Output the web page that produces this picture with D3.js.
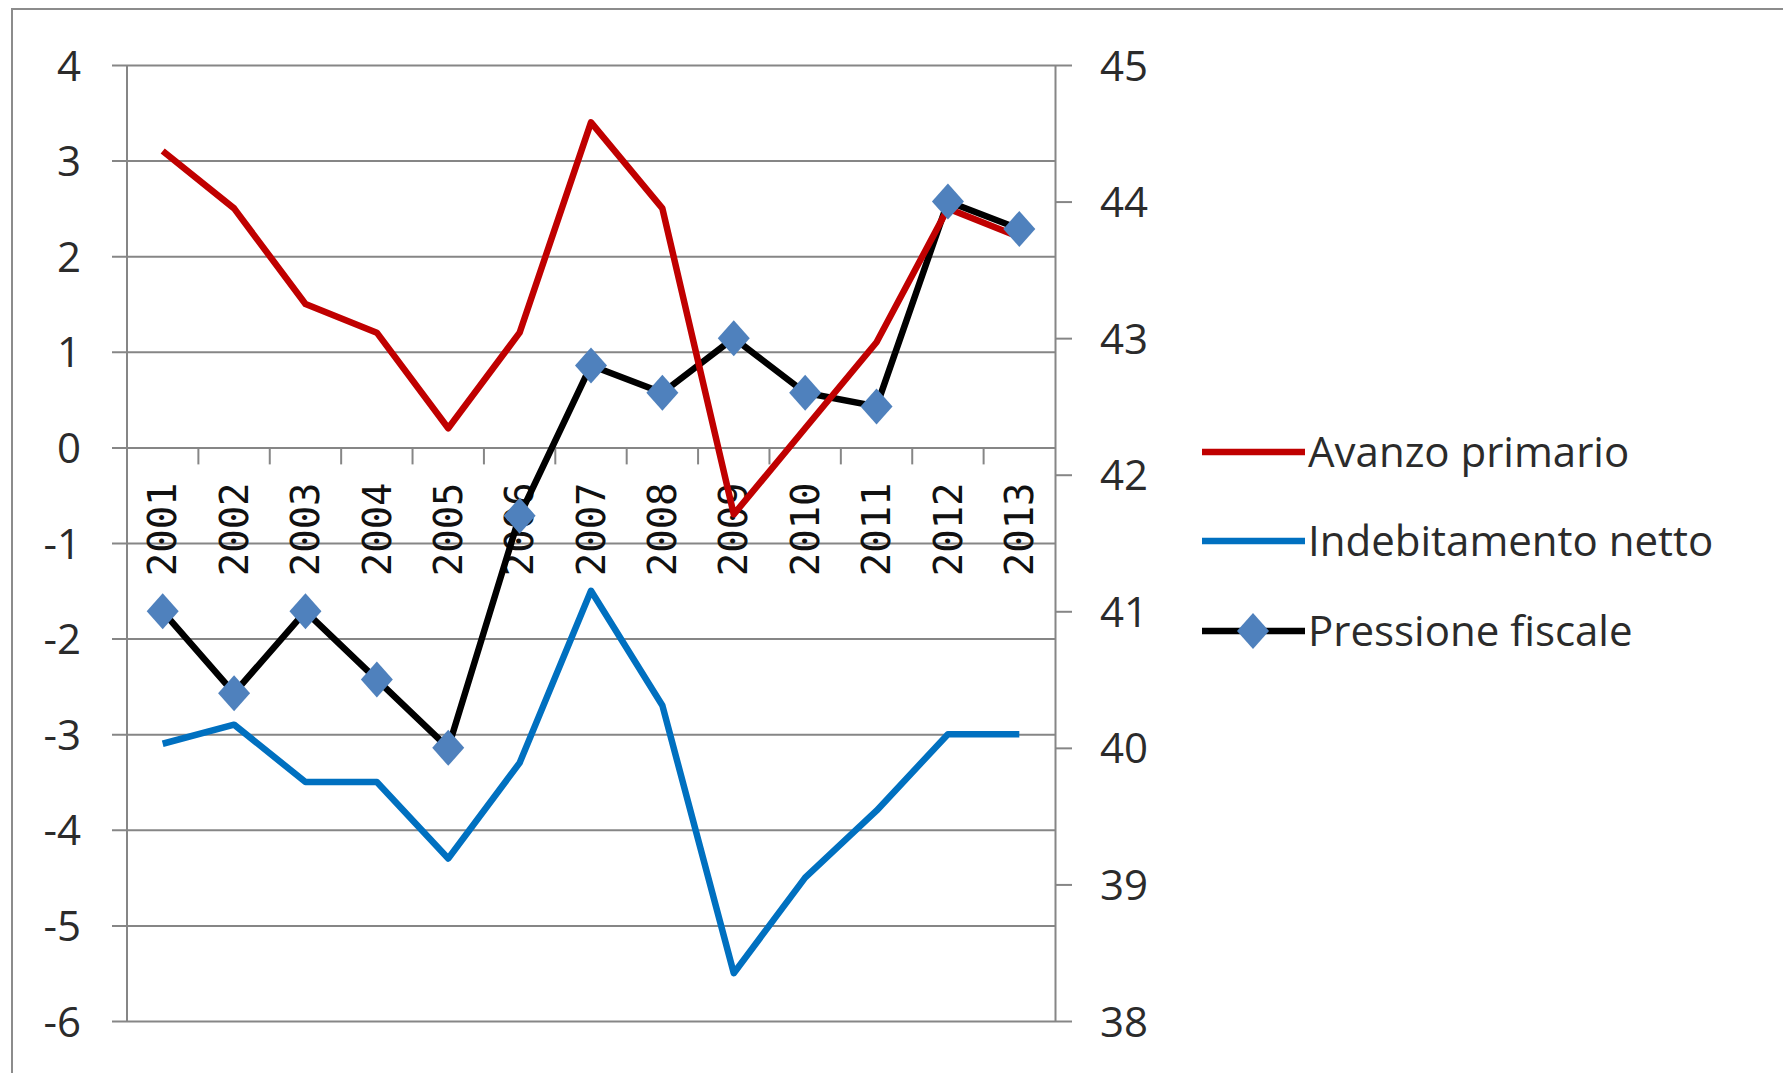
<!DOCTYPE html>
<html>
<head>
<meta charset="utf-8">
<script src="https://cdn.jsdelivr.net/npm/d3@7"></script>
<style>
html, body { margin: 0; padding: 0; background: #fff; }
svg { display: block; }
</style>
</head>
<body>
<svg width="1783" height="1073"></svg>
<script>
const years = ['2001','2002','2003','2004','2005','2006','2007','2008','2009','2010','2011','2012','2013'];
const avanzo = [3.1, 2.5, 1.5, 1.2, 0.2, 1.2, 3.4, 2.5, -0.7, 0.2, 1.1, 2.5, 2.2];
const indebitamento = [-3.1, -2.9, -3.5, -3.5, -4.3, -3.3, -1.5, -2.7, -5.5, -4.5, -3.8, -3.0, -3.0];
const pressione = [41.0, 40.4, 41.0, 40.5, 40.0, 41.7, 42.8, 42.6, 43.0, 42.6, 42.5, 44.0, 43.8];
const leftTicks = [4, 3, 2, 1, 0, -1, -2, -3, -4, -5, -6];
const rightTicks = [45, 44, 43, 42, 41, 40, 39, 38];
const legendNames = ['Avanzo primario', 'Indebitamento netto', 'Pressione fiscale'];

const plotLeft = 127, plotRight = 1055, plotTop = 65, plotBottom = 1021;
const gridColor = '#868686';
const textColor = '#2b2b2b';
const red = '#C00000', blue = '#0070C0', diamondFill = '#4F81BD';
const plain = d => String(d); // hyphen minus, like the original

var svg = d3.select('svg');

// outer frame
svg.append('rect')
	.attr('x', 12).attr('y', 9)
	.attr('width', 1800).attr('height', 1100)
	.attr('fill', 'none').attr('stroke', '#8c8c8c').attr('stroke-width', 2);

var x = d3.scaleBand().domain(years).range([plotLeft, plotRight]).padding(0);
var yL = d3.scaleLinear().domain([-6, 4]).range([plotBottom, plotTop]);
var yR = d3.scaleLinear().domain([38, 45]).range([plotBottom, plotTop]);
var cx = d => x(d) + x.bandwidth()/2;

// gridlines (with little left ticks)
var grid = svg.append('g')
	.attr('transform', `translate(${plotRight},0)`)
	.call(d3.axisLeft(yL).tickValues(leftTicks).tickSize(plotRight - plotLeft + 15).tickFormat(''));
grid.select('.domain').remove();
grid.selectAll('line').attr('stroke', gridColor).attr('stroke-width', 2);

// left labels
var la = svg.append('g')
	.attr('transform', `translate(${plotLeft},0)`)
	.call(d3.axisLeft(yL).tickValues(leftTicks).tickSize(0).tickPadding(46).tickFormat(plain));
la.select('.domain').remove();
la.selectAll('text')
	.attr('font-family', '"Open Sans", sans-serif').attr('font-size', 42)
	.attr('fill', textColor).attr('dy', '0.36em');

// left axis line
svg.append('line')
	.attr('x1', plotLeft).attr('x2', plotLeft).attr('y1', plotTop).attr('y2', plotBottom)
	.attr('stroke', gridColor).attr('stroke-width', 2);

// right axis
var ra = svg.append('g')
	.attr('transform', `translate(${plotRight},0)`)
	.call(d3.axisRight(yR).tickValues(rightTicks).tickSize(17).tickSizeOuter(0).tickPadding(28).tickFormat(plain));
ra.select('.domain').attr('stroke', gridColor).attr('stroke-width', 2);
ra.selectAll('line').attr('stroke', gridColor).attr('stroke-width', 2);
ra.selectAll('text')
	.attr('font-family', '"Open Sans", sans-serif').attr('font-size', 42)
	.attr('fill', textColor).attr('dy', '0.36em');

// category ticks on the zero line
var y0 = yL(0);
svg.append('g').selectAll('line')
	.data(years.slice(1)).enter().append('line')
	.attr('x1', d => x(d)).attr('x2', d => x(d))
	.attr('y1', y0).attr('y2', y0 + 17)
	.attr('stroke', gridColor).attr('stroke-width', 2);

// category labels, rotated
svg.append('g').selectAll('text')
	.data(years).enter().append('text')
	.attr('transform', d => `translate(${cx(d)},${y0 + 35}) rotate(-90)`)
	.attr('text-anchor', 'end')
	.attr('dy', '0.35em')
	.attr('font-family', '"DejaVu Sans Mono", monospace').attr('font-size', 39)
	.attr('fill', '#111')
	.text(d => d);

// series lines
var lineL = d3.line().x((v, i) => cx(years[i])).y(v => yL(v));
var lineR = d3.line().x((v, i) => cx(years[i])).y(v => yR(v));

svg.append('path').datum(indebitamento)
	.attr('d', lineL).attr('fill', 'none')
	.attr('stroke', blue).attr('stroke-width', 6.5).attr('stroke-linejoin', 'round');
svg.append('path').datum(pressione)
	.attr('d', lineR).attr('fill', 'none')
	.attr('stroke', '#000').attr('stroke-width', 6.5).attr('stroke-linejoin', 'round');
svg.append('path').datum(avanzo)
	.attr('d', lineL).attr('fill', 'none')
	.attr('stroke', red).attr('stroke-width', 6.5).attr('stroke-linejoin', 'round');

// diamond markers
var diamond = 'M0,-18L16,0L0,18L-16,0Z';
svg.append('g').selectAll('path')
	.data(pressione).enter().append('path')
	.attr('d', diamond)
	.attr('transform', (v, i) => `translate(${cx(years[i])},${yR(v)})`)
	.attr('fill', diamondFill);

// legend
var legendY = [452, 541, 631];
var legendColors = [red, blue, '#000'];
var lg = svg.append('g');
legendNames.forEach(function(name, i){
	var g = lg.append('g').attr('transform', `translate(1202,${legendY[i]})`);
	g.append('line').attr('x1', 0).attr('x2', 103).attr('y1', 0).attr('y2', 0)
		.attr('stroke', legendColors[i]).attr('stroke-width', 6.5);
	if(i == 2){
		g.append('path').attr('d', diamond).attr('transform', 'translate(51,0)').attr('fill', diamondFill);
	}
	g.append('text').attr('x', 106).attr('dy', '0.36em')
		.attr('font-family', '"Open Sans", sans-serif').attr('font-size', 42)
		.attr('fill', textColor)
		.text(name);
});
</script>
</body>
</html>
